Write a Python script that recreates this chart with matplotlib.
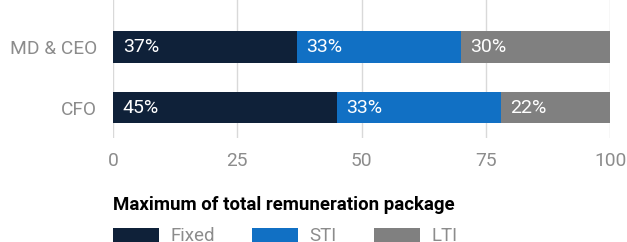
import matplotlib
matplotlib.use('Agg')
from matplotlib import pyplot as plt
from matplotlib.patches import Patch

# data
roles = ['MD & CEO', 'CFO']
components = ['Fixed', 'STI', 'LTI']
fixed = [37, 45]
sti = [33, 33]
lti = [30, 22]
colors = ['#0f2139', '#1170c4', '#808080']
xticks = [0, 25, 50, 75, 100]

plt.rcParams['font.family'] = ['Roboto', 'DejaVu Sans']

fig = plt.figure(figsize=(6.27, 2.42), dpi=100)
ax = fig.add_axes([113 / 627, 1 - 138 / 242, 497 / 627, 138 / 242])

ypos = list(range(len(roles)))
left = [0] * len(roles)
for values, color in zip([fixed, sti, lti], colors):
    ax.barh(ypos, values, left=left, height=0.52, color=color, zorder=3)
    for y, v, l in zip(ypos, values, left):
        ax.annotate('%d%%' % v, xy=(l, y), xytext=(7, 0), textcoords='offset points',
                    ha='left', va='center', color='white', fontsize=14, zorder=4)
    left = [a + b for a, b in zip(left, values)]

ax.set_xlim(0, 100)
ax.set_ylim(1.5, -0.77)
ax.set_xticks(xticks)
ax.set_yticks(ypos)
ax.set_yticklabels(roles)
ax.grid(axis='x', color='#d9d9d9', linewidth=1, zorder=0)
for s in ax.spines.values():
    s.set_visible(False)
ax.tick_params(axis='y', length=0, pad=11.5, labelsize=13.8, labelcolor='#8c8c8c')
ax.tick_params(axis='x', length=0, pad=10, labelsize=13.8, labelcolor='#8c8c8c')

handles = [Patch(facecolor=c, label=n) for c, n in zip(colors, components)]
leg = fig.legend(handles=handles, loc='upper left', bbox_to_anchor=(113 / 627, 1 - 196 / 242),
                 ncol=3, frameon=False, fontsize=13.5, borderpad=0, borderaxespad=0,
                 labelspacing=0.7,
                 handlelength=2.45, handleheight=0.78, handletextpad=0.6, columnspacing=2.0,
                 title='Maximum of total remuneration package', alignment='left',
                 title_fontproperties={'weight': 'bold', 'size': 13.4, 'family': 'Roboto'})
for t in leg.get_texts():
    t.set_color('#8c8c8c')

plt.savefig('out.png', dpi=100)
